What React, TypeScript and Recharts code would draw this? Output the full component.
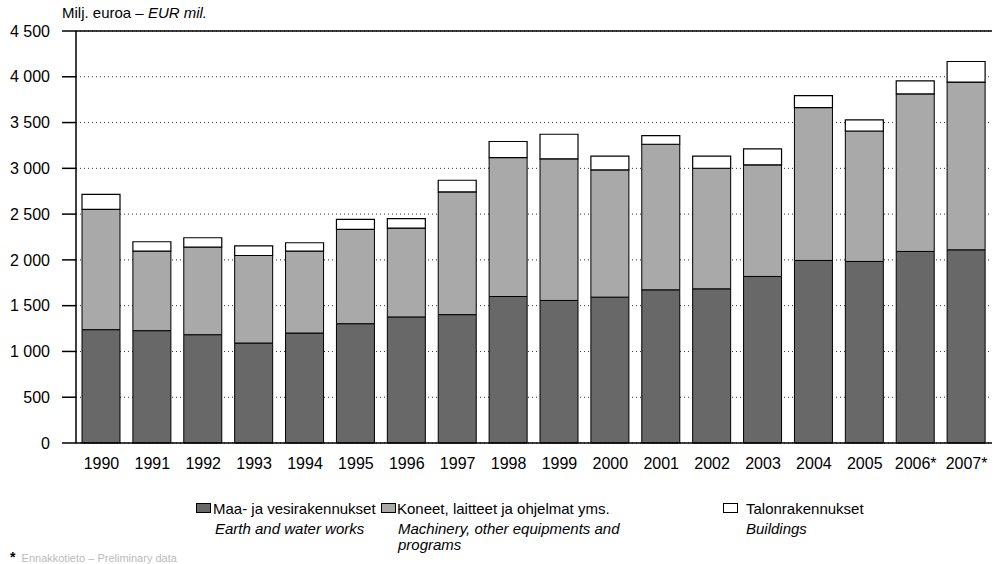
import React from "react"
import { BarChart, Bar, XAxis, YAxis, CartesianGrid, ReferenceLine } from "recharts"

const years = [
  "1990", "1991", "1992", "1993", "1994", "1995", "1996", "1997", "1998",
  "1999", "2000", "2001", "2002", "2003", "2004", "2005", "2006*", "2007*",
]
const earthWorks = [1238, 1227, 1183, 1092, 1201, 1303, 1377, 1402, 1600, 1557, 1593, 1673, 1684, 1819, 1994, 1983, 2092, 2110]
const machinery = [1314, 868, 956, 956, 894, 1030, 970, 1340, 1518, 1547, 1390, 1590, 1317, 1219, 1670, 1425, 1721, 1832]
const buildings = [164, 103, 103, 106, 92, 109, 103, 128, 175, 268, 150, 95, 132, 175, 131, 121, 142, 225]
const yTicks = [0, 500, 1000, 1500, 2000, 2500, 3000, 3500, 4000, 4500]

const data = years.map((year, i) => ({
  year,
  earth: earthWorks[i],
  machinery: machinery[i],
  buildings: buildings[i],
}))

const font = "'Liberation Sans', Arial, sans-serif"
const fmt = (v: number) => (v >= 1000 ? `${Math.floor(v / 1000)} ${String(v % 1000).padStart(3, "0")}` : String(v))

const swatch = (fill: string): React.CSSProperties => ({
  position: "absolute",
  width: 15,
  height: 10,
  background: fill,
  border: "1px solid #000",
  boxSizing: "border-box",
})

export default function App() {
  const txt: React.CSSProperties = { position: "absolute", fontFamily: font, fontSize: 15, color: "#000", whiteSpace: "nowrap", lineHeight: "15px" }
  return (
    <div style={{ position: "absolute", left: 0, top: 0, width: 994, height: 564, background: "#fff", overflow: "hidden" }}>
      <BarChart
        width={994}
        height={564}
        data={data}
        margin={{ top: 31, right: 2, bottom: 91, left: 0 }}
        barSize={38}
        style={{ fontFamily: font }}
      >
        <CartesianGrid vertical={false} strokeDasharray="1 3" stroke="#333" />
        <XAxis
          dataKey="year"
          height={30}
          tickLine={false}
          tickSize={0}
          tickMargin={15}
          axisLine={{ stroke: "#000", strokeWidth: 1.5 }}
          tick={{ fill: "#000", fontSize: 16 }}
          interval={0}
        />
        <YAxis
          width={76}
          domain={[0, 4500]}
          ticks={yTicks}
          interval={0}
          tickSize={14}
          tickMargin={12}
          tickFormatter={fmt}
          tickLine={{ stroke: "#000", strokeWidth: 1.5 }}
          axisLine={{ stroke: "#000", strokeWidth: 1.5 }}
          tick={{ fill: "#000", fontSize: 16 }}
        />
        <YAxis
          yAxisId="right"
          orientation="right"
          width={0}
          domain={[0, 4500]}
          tick={false}
          tickLine={false}
          axisLine={{ stroke: "#000", strokeWidth: 1.5 }}
        />
        <ReferenceLine y={4500} stroke="#000" strokeWidth={1.5} />
        <Bar dataKey="earth" stackId="a" fill="#686868" stroke="#000" strokeWidth={1} isAnimationActive={false} />
        <Bar dataKey="machinery" stackId="a" fill="#a9a9a9" stroke="#000" strokeWidth={1} isAnimationActive={false} />
        <Bar dataKey="buildings" stackId="a" fill="#ffffff" stroke="#000" strokeWidth={1.2} isAnimationActive={false} />
      </BarChart>

      <div style={{ ...txt, left: 62, top: 5, fontSize: 15 }}>
        Milj. euroa – <i>EUR mil.</i>
      </div>

      <div style={{ ...swatch("#686868"), left: 196, top: 503 }} />
      <div style={{ ...txt, left: 213, top: 501 }}>Maa- ja vesirakennukset</div>
      <div style={{ ...txt, left: 215, top: 521, fontStyle: "italic" }}>Earth and water works</div>

      <div style={{ ...swatch("#a9a9a9"), left: 381, top: 503 }} />
      <div style={{ ...txt, left: 397, top: 501 }}>Koneet, laitteet ja ohjelmat yms.</div>
      <div style={{ ...txt, left: 398, top: 521, fontStyle: "italic" }}>Machinery, other equipments and</div>
      <div style={{ ...txt, left: 398, top: 537, fontStyle: "italic" }}>programs</div>

      <div style={{ ...swatch("#ffffff"), left: 723, top: 503 }} />
      <div style={{ ...txt, left: 746, top: 501 }}>Talonrakennukset</div>
      <div style={{ ...txt, left: 746, top: 521, fontStyle: "italic" }}>Buildings</div>

      <div style={{ ...txt, left: 10, top: 551, color: "#bbb", fontSize: 11, lineHeight: "12px" }}>
        <b style={{ color: "#000", fontSize: 14 }}>*</b>&nbsp;&nbsp;Ennakkotieto – Preliminary data
      </div>
    </div>
  )
}
